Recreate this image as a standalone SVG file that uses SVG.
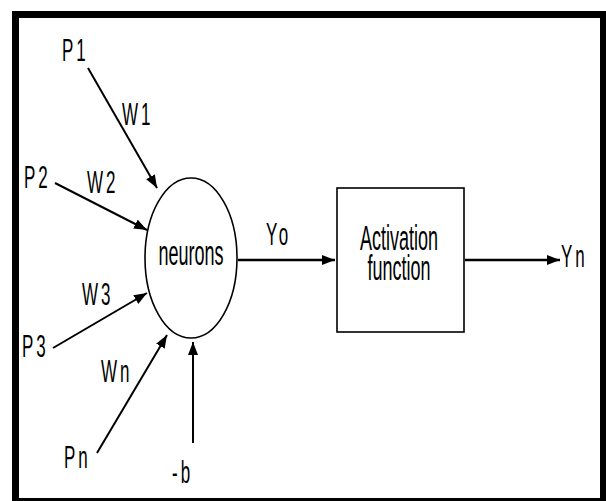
<svg xmlns="http://www.w3.org/2000/svg" width="606" height="501" viewBox="0 0 606 501">
<style>
.lbl{font-family:"Liberation Sans",Arial,sans-serif;font-size:17px;letter-spacing:3px;fill:#000}
.txt{font-family:"Liberation Sans",Arial,sans-serif;font-size:18px;fill:#000;text-anchor:middle}
.edge{stroke:#000;stroke-width:2;fill:none;marker-end:url(#ah)}
.edge.h{stroke-width:2.6}
.shape{fill:#fff;stroke:#000;stroke-width:1.6}
</style>
<defs>
<marker id="ah" markerUnits="userSpaceOnUse" markerWidth="14" markerHeight="11" refX="13" refY="5" orient="auto">
<path d="M0,0 L13,5 L0,10 z" fill="#000"/>
</marker>
</defs>
<rect x="0" y="0" width="606" height="501" fill="#fff"/>
<g id="frame" fill="#000">
<rect x="12" y="11" width="594" height="7"/>
<rect x="12" y="11" width="7" height="490"/>
<rect x="600" y="11" width="6" height="490"/>
<rect x="12" y="498" width="594" height="3"/>
</g>
<g id="connectors">
<line class="edge" x1="88" y1="68" x2="157" y2="188"/>
<line class="edge" x1="55" y1="183" x2="147" y2="230"/>
<line class="edge" x1="53" y1="348" x2="147" y2="293"/>
<line class="edge" x1="97" y1="453" x2="167" y2="335"/>
<line class="edge" x1="193" y1="443" x2="193" y2="342"/>
<line class="edge h" x1="238" y1="260" x2="335" y2="260"/>
<line class="edge h" x1="465" y1="260" x2="560" y2="260"/>
</g>
<g id="neurons">
<ellipse class="shape" cx="191" cy="258" rx="46" ry="80"/>
<text class="txt" transform="translate(191,265) scale(1,1.95)">neurons</text>
</g>
<g id="activation">
<rect class="shape" x="337" y="188" width="127" height="144"/>
<text class="txt" transform="translate(399,250) scale(1,1.95)">Activation</text>
<text class="txt" transform="translate(399,280) scale(1,1.95)">function</text>
</g>
<g id="labels">
<text class="lbl" transform="translate(62,61) scale(1,1.9)">P1</text>
<text class="lbl" transform="translate(122,125) scale(1,1.9)">W1</text>
<text class="lbl" transform="translate(24,188) scale(1,1.9)">P2</text>
<text class="lbl" transform="translate(87,193) scale(1,1.9)">W2</text>
<text class="lbl" transform="translate(82,305) scale(1,1.9)">W3</text>
<text class="lbl" transform="translate(22,357) scale(1,1.9)">P3</text>
<text class="lbl" transform="translate(101,382) scale(1,1.9)">Wn</text>
<text class="lbl" transform="translate(64,468) scale(1,1.9)">Pn</text>
<text class="lbl" transform="translate(172,483) scale(1,1.9)">-b</text>
<text class="lbl" transform="translate(266,245) scale(1,1.9)">Yo</text>
<text class="lbl" transform="translate(561,267) scale(1,1.9)">Yn</text>
</g>
</svg>
